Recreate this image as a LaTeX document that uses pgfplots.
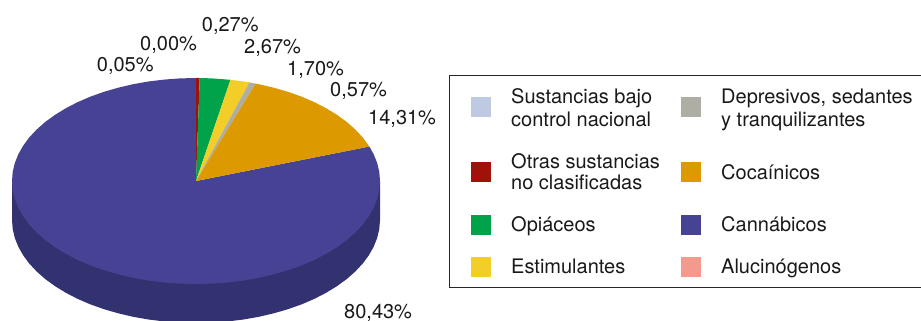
\documentclass[border=0pt]{standalone}
\usepackage{pgfplots}
\pgfplotsset{compat=1.18}
\usepackage{fontspec}
\setmainfont{TeX Gyre Heros}
\definecolor{cBlue}{HTML}{464394}
\definecolor{cSide}{HTML}{333270}
\definecolor{cOrange}{HTML}{DD9900}
\definecolor{cGreen}{HTML}{00A34A}
\definecolor{cYellow}{HTML}{F4CE28}
\definecolor{cGrey}{HTML}{AEAEA4}
\definecolor{cRed}{HTML}{A01209}
\definecolor{cLight}{HTML}{BDCAE2}
\definecolor{cSalmon}{HTML}{F49A8C}
\begin{document}
\begin{tikzpicture}[lab/.style={anchor=base west,inner sep=0pt,font=\fontsize{20}{24}\selectfont,text=black!90}]
\path[use as bounding box] (0,0) rectangle (921pt,321pt);
\begin{axis}[at={(0,0)},anchor=south west,hide axis,scale only axis,width=921pt,height=321pt,xmin=0,xmax=921,ymin=0,ymax=321,y dir=reverse,clip=true]
% side of the pie
\addplot[fill=cSide,draw=none] coordinates {(380,181)(380,220)(379.3,229)(377.2,237.9)(373.7,246.7)(368.9,255.2)(362.8,263.5)(355.3,271.5)(346.7,279.1)(336.9,286.2)(326.1,292.8)(314.3,298.9)(301.5,304.4)(288,309.2)(273.8,313.3)(258.9,316.8)(243.6,319.5)(227.9,321.4)(212,322.6)(196,323)(180,322.6)(164.1,321.4)(148.4,319.5)(133.1,316.8)(118.2,313.3)(104,309.2)(90.5,304.4)(77.7,298.9)(65.9,292.8)(55.1,286.2)(45.3,279.1)(36.7,271.5)(29.2,263.5)(23.1,255.2)(18.3,246.7)(14.8,237.9)(12.7,229)(12,220)(12,181)} -- cycle;
% Cannabicos 80,43
\addplot[fill=cBlue,draw=none] coordinates {(196,181)(369.4,146.5)(373.7,154.3)(377.2,163.1)(379.3,172)(380,181)(379.3,190)(377.2,198.9)(373.7,207.7)(368.9,216.2)(362.8,224.5)(355.3,232.5)(346.7,240.1)(336.9,247.2)(326.1,253.8)(314.3,259.9)(301.5,265.4)(288,270.2)(273.8,274.3)(258.9,277.8)(243.6,280.5)(227.9,282.4)(212,283.6)(196,284)(180,283.6)(164.1,282.4)(148.4,280.5)(133.1,277.8)(118.2,274.3)(104,270.2)(90.5,265.4)(77.7,259.9)(65.9,253.8)(55.1,247.2)(45.3,240.1)(36.7,232.5)(29.2,224.5)(23.1,216.2)(18.3,207.7)(14.8,198.9)(12.7,190)(12,181)(12.7,172)(14.8,163.1)(18.3,154.3)(23.1,145.8)(29.2,137.5)(36.7,129.5)(45.3,121.9)(55.1,114.8)(65.9,108.2)(77.7,102.1)(90.5,96.6)(104,91.8)(118.2,87.7)(133.1,84.2)(148.4,81.5)(164.1,79.6)(180,78.4)(196,78)} -- cycle;
% Sustancias bajo control 0,05
\addplot[fill=cLight,draw=none] coordinates {(196,181)(196,78)(196.6,78)} -- cycle;
% Otras 0,27
\addplot[fill=cRed,draw=none] coordinates {(196,181)(196.2,78)(199.7,78)} -- cycle;
% Opiaceos 2,67
\addplot[fill=cGreen,draw=none] coordinates {(196,181)(199.7,78)(212,78.4)(227.9,79.6)(230.5,79.8)} -- cycle;
% Estimulantes 1,70
\addplot[fill=cYellow,draw=none] coordinates {(196,181)(230.5,79.8)(243.6,81.5)(249.5,82.4)} -- cycle;
% Depresivos 0,57
\addplot[fill=cGrey,draw=none] coordinates {(196,181)(249.5,82.4)(255.6,83.6)} -- cycle;
% Cocainicos 14,31
\addplot[fill=cOrange,draw=none] coordinates {(196,181)(255.6,83.6)(258.9,84.2)(273.8,87.7)(288,91.8)(301.5,96.6)(314.3,102.1)(326.1,108.2)(336.9,114.8)(346.7,121.9)(355.3,129.5)(362.8,137.5)(368.9,145.8)(369.4,146.5)} -- cycle;
% legend frame (open on the right)
\addplot[draw=black!85,line width=0.9pt] coordinates {(921,75)(449.7,75)(449.7,287)(921,287)};
% legend swatches
\addplot[fill=cLight,draw=none] coordinates {(471,97)(491,97)(491,117)(471,117)} -- cycle;
\addplot[fill=cRed,draw=none] coordinates {(471,162)(491,162)(491,182)(471,182)} -- cycle;
\addplot[fill=cGreen,draw=none] coordinates {(471,215)(491,215)(491,235)(471,235)} -- cycle;
\addplot[fill=cYellow,draw=none] coordinates {(471,257)(491,257)(491,277)(471,277)} -- cycle;
\addplot[fill=cGrey,draw=none] coordinates {(681,97)(701,97)(701,117)(681,117)} -- cycle;
\addplot[fill=cOrange,draw=none] coordinates {(681,162)(701,162)(701,182)(681,182)} -- cycle;
\addplot[fill=cBlue,draw=none] coordinates {(681,215)(701,215)(701,235)(681,235)} -- cycle;
\addplot[fill=cSalmon,draw=none] coordinates {(681,257)(701,257)(701,277)(681,277)} -- cycle;
% legend text
\node[lab] at (axis cs:511,103) {Sustancias bajo};
\node[lab] at (axis cs:511,126) {control nacional};
\node[lab] at (axis cs:511,168) {Otras sustancias};
\node[lab] at (axis cs:511,189) {no clasificadas};
\node[lab] at (axis cs:511,231) {Opiáceos};
\node[lab] at (axis cs:511,273) {Estimulantes};
\node[lab] at (axis cs:721,103) {Depresivos, sedantes};
\node[lab] at (axis cs:721,126) {y tranquilizantes};
\node[lab] at (axis cs:721,179) {Cocaínicos};
\node[lab] at (axis cs:721,231) {Cannábicos};
\node[lab] at (axis cs:721,273) {Alucinógenos};
% pie labels
\node[lab] at (axis cs:201.7,31.7) {0,27\%};
\node[lab] at (axis cs:140,50.7) {0,00\%};
\node[lab] at (axis cs:96.7,71) {0,05\%};
\node[lab] at (axis cs:244,54) {2,67\%};
\node[lab] at (axis cs:287,75) {1,70\%};
\node[lab] at (axis cs:330,96.7) {0,57\%};
\node[lab] at (axis cs:368,124) {14,31\%};
\node[lab] at (axis cs:344,318) {80,43\%};
\end{axis}
\end{tikzpicture}
\end{document}
